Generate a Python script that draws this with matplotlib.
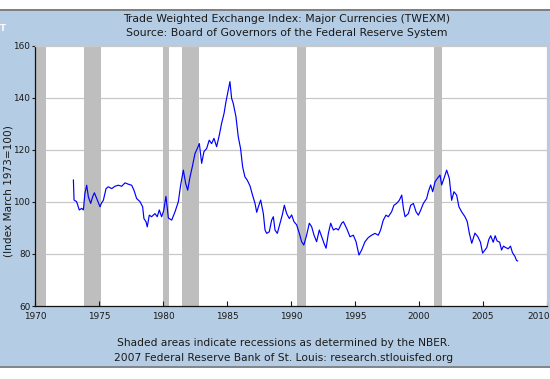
import matplotlib
matplotlib.use("Agg")
import matplotlib.pyplot as plt
import matplotlib.transforms as mtrans
from matplotlib.patches import Rectangle
from matplotlib.lines import Line2D

# ---- data (decimal year, index value) ----
years = [
    1973.00, 1973.05, 1973.25, 1973.46, 1973.65, 1973.78, 1973.90, 1974.04, 1974.17, 1974.35,
    1974.50, 1974.64, 1974.82, 1975.08, 1975.20, 1975.34, 1975.55, 1975.73, 1975.99, 1976.25,
    1976.51, 1976.77, 1977.03, 1977.29, 1977.55, 1977.73, 1977.94, 1978.20, 1978.41, 1978.51,
    1978.67, 1978.77, 1978.93, 1979.11, 1979.37, 1979.55, 1979.71, 1979.89, 1980.05, 1980.23,
    1980.42, 1980.68, 1980.94, 1981.20, 1981.38, 1981.59, 1981.77, 1981.93, 1982.11, 1982.29,
    1982.50, 1982.68, 1982.84, 1983.02, 1983.20, 1983.41, 1983.61, 1983.80, 1983.98, 1984.19,
    1984.40, 1984.58, 1984.77, 1984.92, 1985.10, 1985.23, 1985.36, 1985.49, 1985.70, 1985.88,
    1986.06, 1986.22, 1986.40, 1986.59, 1986.80, 1987.00, 1987.19, 1987.32, 1987.45, 1987.63,
    1987.84, 1987.97, 1988.10, 1988.30, 1988.49, 1988.62, 1988.75, 1988.93, 1989.14, 1989.32,
    1989.48, 1989.66, 1989.87, 1990.05, 1990.23, 1990.44, 1990.65, 1990.83, 1991.00, 1991.22,
    1991.43, 1991.61, 1991.80, 1992.00, 1992.21, 1992.40, 1992.58, 1992.74, 1992.92, 1993.10,
    1993.31, 1993.52, 1993.70, 1993.96, 1994.09, 1994.35, 1994.61, 1994.87, 1995.08, 1995.31,
    1995.52, 1995.78, 1996.04, 1996.30, 1996.56, 1996.82, 1997.00, 1997.21, 1997.42, 1997.60,
    1997.86, 1998.04, 1998.25, 1998.46, 1998.65, 1998.78, 1998.91, 1999.17, 1999.35, 1999.56,
    1999.77, 1999.95, 2000.13, 2000.34, 2000.60, 2000.73, 2000.91, 2001.07, 2001.25, 2001.43,
    2001.64, 2001.77, 2001.95, 2002.16, 2002.37, 2002.55, 2002.73, 2002.94, 2003.12, 2003.33,
    2003.59, 2003.77, 2003.93, 2004.12, 2004.37, 2004.60, 2004.80, 2004.97, 2005.15, 2005.30,
    2005.45, 2005.60, 2005.80, 2005.95, 2006.10, 2006.30, 2006.45, 2006.60, 2006.75, 2006.97,
    2007.15, 2007.30, 2007.50, 2007.62, 2007.70,
]
twexm = [
    108.4, 100.7, 100.1, 96.9, 97.5, 96.9, 103.3, 106.4, 101.9, 99.4,
    101.9, 103.5, 101.3, 98.1, 99.6, 100.6, 105.1, 105.8, 105.1, 106.0,
    106.4, 106.0, 107.3, 106.8, 106.4, 104.5, 101.3, 100.1, 98.1, 93.6,
    92.4, 90.4, 94.9, 94.3, 95.5, 94.3, 96.9, 94.3, 96.5, 102.1,
    93.8, 93.0, 96.2, 100.1, 106.5, 112.2, 107.1, 104.5, 109.6, 113.5,
    118.6, 120.5, 122.4, 114.8, 119.3, 120.5, 123.7, 122.4, 124.4, 121.2,
    125.7, 130.2, 134.0, 138.5, 143.0, 146.2, 139.8, 137.8, 132.7, 125.0,
    120.5, 113.5, 109.6, 108.3, 106.1, 102.5, 99.4, 96.0, 98.1, 100.7,
    95.5, 89.2, 87.9, 88.5, 93.0, 94.3, 89.2, 87.9, 91.8, 95.0,
    98.7, 95.5, 93.6, 95.0, 92.4, 91.2, 87.9, 84.7, 83.4, 87.2,
    91.8, 90.5, 87.2, 84.7, 89.2, 86.6, 84.1, 82.2, 87.9, 91.8,
    89.2, 89.8, 89.2, 91.8, 92.4, 89.8, 86.6, 87.2, 84.7, 79.6,
    81.5, 84.7, 86.3, 87.2, 87.9, 87.2, 89.2, 93.0, 94.9, 94.3,
    96.2, 98.7, 99.4, 100.6, 102.6, 97.5, 94.3, 95.5, 98.7, 99.4,
    96.2, 94.9, 96.8, 99.4, 101.3, 103.9, 106.5, 103.9, 107.7, 109.0,
    110.3, 106.5, 109.0, 112.2, 109.0, 100.6, 103.9, 102.6, 98.1, 96.2,
    94.3, 92.4, 88.0, 84.1, 88.0, 86.6, 84.5, 80.3, 81.5, 82.5,
    85.5, 87.0, 84.5, 87.0, 85.0, 84.5, 81.5, 83.0, 82.5, 82.0,
    83.0, 80.5, 79.0, 77.5, 77.3,
]
recession_start = [1969.92, 1973.83, 1980.00, 1981.50, 1990.50, 2001.17]
recession_end = [1970.83, 1975.17, 1980.50, 1982.83, 1991.17, 2001.83]
xticks = [1970, 1975, 1980, 1985, 1990, 1995, 2000, 2005, 2010]
yticks = [60, 80, 100, 120, 140, 160]

title1 = "Trade Weighted Exchange Index: Major Currencies (TWEXM)"
title2 = "Source: Board of Governors of the Federal Reserve System"
ylabel = "(Index March 1973=100)"
foot1 = "Shaded areas indicate recessions as determined by the NBER."
foot2 = "2007 Federal Reserve Bank of St. Louis: research.stlouisfed.org"

# ---- figure ----
W, H = 550, 379
fig = plt.figure(figsize=(W / 100, H / 100), dpi=100, facecolor="white")

def fy(py):
    return 1 - py / H

panel_blue = "#B4CCE4"
fig.patches.append(Rectangle((0, fy(367)), 1, fy(10.5) - fy(367), transform=fig.transFigure,
                             facecolor=panel_blue, edgecolor="none", zorder=-2))
fig.lines.append(Line2D([0, 1], [fy(10), fy(10)], transform=fig.transFigure,
                        color="#6F747A", linewidth=1.3, zorder=-1))
fig.lines.append(Line2D([0, 1], [fy(367), fy(367)], transform=fig.transFigure,
                        color="#7E858C", linewidth=1.4, zorder=-1))

ax = fig.add_axes([35 / W, fy(306), 512 / W, (306 - 45.7) / H])
ax.set_zorder(5)
ax.set_facecolor("white")
ax.set_xlim(1970, 2010)
ax.set_ylim(60, 160)

for s, e in zip(recession_start, recession_end):
    ax.axvspan(s, e, color="#BEBEBE", linewidth=0, zorder=1)

for v in yticks[1:-1]:
    ax.axhline(v, color="#C8C8C8", linewidth=0.9, zorder=0.5)

ax.plot(years, twexm, color="#0000FF", linewidth=0.85, zorder=3)

ax.set_xticks(xticks)
ax.set_yticks(yticks)
ax.set_xticklabels([str(t) for t in xticks])
ax.set_yticklabels([str(t) for t in yticks])
ax.tick_params(axis="x", direction="in", length=3.5, width=0.8, pad=4.5,
               labelsize=6.4, colors="#1A1A1A")
ax.tick_params(axis="y", direction="out", length=2.5, width=0.8, pad=0.8,
               labelsize=6.4, colors="#1A1A1A")

for side in ("left", "bottom"):
    ax.spines[side].set_color("#111111")
    ax.spines[side].set_linewidth(0.9)
for side in ("top", "right"):
    ax.spines[side].set_color("#C8C8C8")
    ax.spines[side].set_linewidth(0.9)

# shift last x label left so it fits
last = ax.get_xticklabels()[-1]
last.set_transform(last.get_transform() + mtrans.ScaledTranslation(-8 / 100, 0, fig.dpi_scale_trans))

txt_col = "#1A1A1A"
fig.text(287 / W, fy(19.3), title1, ha="center", va="center", fontsize=7.8, color=txt_col)
fig.text(287 / W, fy(33.3), title2, ha="center", va="center", fontsize=7.8, color=txt_col)
fig.text(284 / W, fy(343), foot1, ha="center", va="center", fontsize=7.7, color=txt_col)
fig.text(284 / W, fy(357.7), foot2, ha="center", va="center", fontsize=7.7, color=txt_col)
fig.text(8.5 / W, fy(191), ylabel, ha="center", va="center", rotation=90, fontsize=7.6, color=txt_col)
fig.text(0.2 / W, fy(28.5), "T", ha="left", va="center", fontsize=6, color="white", fontweight="bold")

fig.savefig("out.png", dpi=100, facecolor="white")
